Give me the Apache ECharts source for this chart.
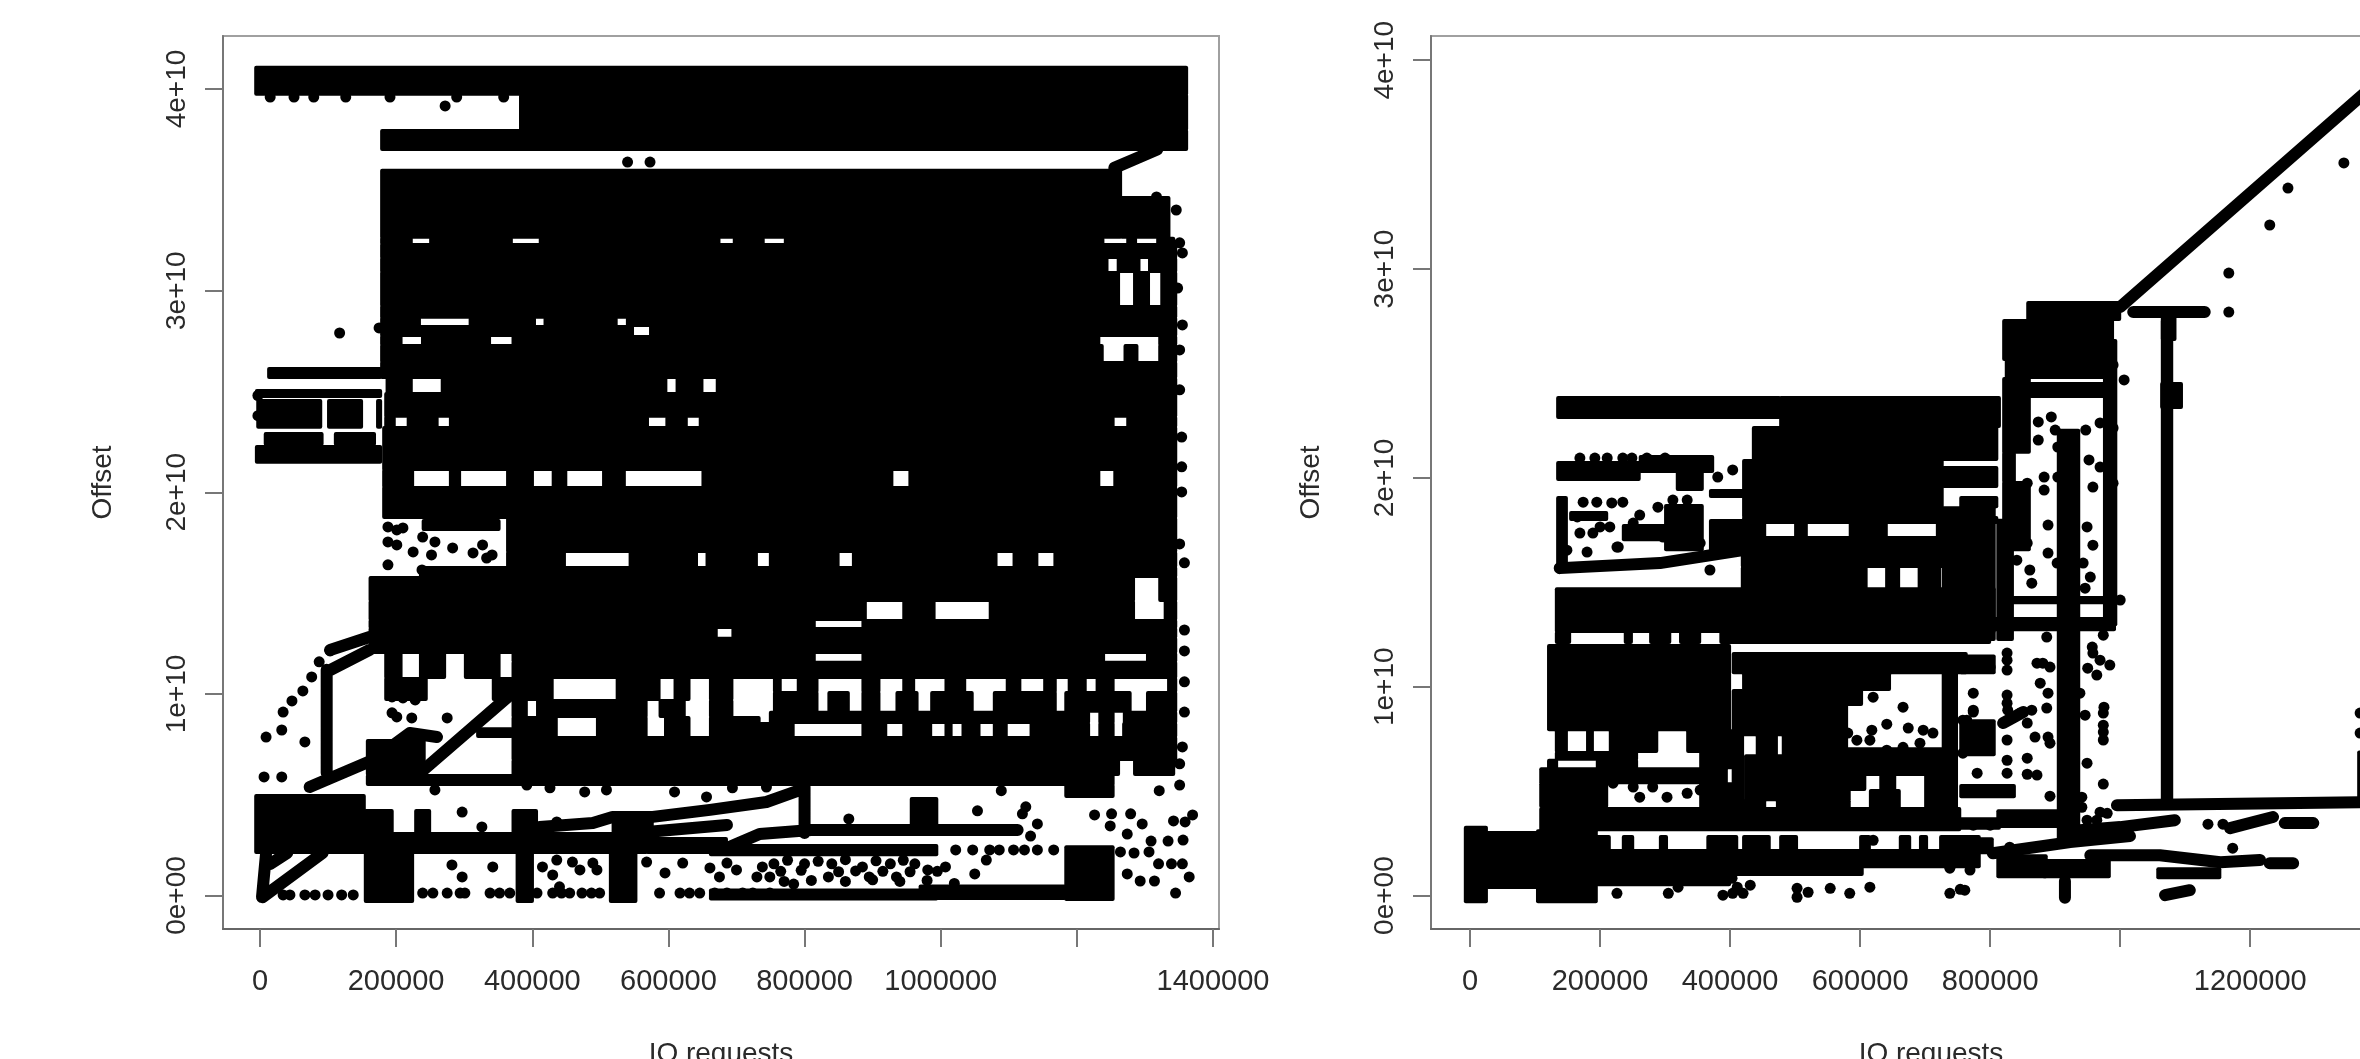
<!DOCTYPE html>
<html><head><meta charset="utf-8">
<style>html,body{margin:0;padding:0;background:#fff;overflow:hidden}#c{width:2360px;height:1059px;filter:blur(0.5px)}</style>
<script src="https://cdn.jsdelivr.net/npm/echarts@6/dist/echarts.min.js"></script>
</head><body><div id="c"></div>
<script>
// All marks. Requests in thousands, offsets in units of 1e10.
const xTickValues = [0,200000,400000,600000,800000,1000000,1200000,1400000];
const leftXLabels = [0,200000,400000,600000,800000,1000000,1400000];
const rightXLabels = [0,200000,400000,600000,800000,1200000];
const yTickValues = [0,1e10,2e10,3e10,4e10];
const yTickLabels = ['0e+00','1e+10','2e+10','3e+10','4e+10'];

// Saturated runs of points: [firstRequest, lastRequest, lowOffset, highOffset]
const leftDense = [
[-7,1362,3.971,4.11],[382,1362,3.797,3.971],[178,1362,3.698,3.797],[178,1265,3.262,3.60],[1265,1336,3.262,3.465],
[178,223,3.232,3.262],[250,370,3.232,3.262],[411,675,3.232,3.262],[696,740,3.232,3.262],[771,1239,3.232,3.262],[1274,1287,3.232,3.262],[1318,1343,3.232,3.262],
[178,1346,3.162,3.232],[178,1245,3.093,3.162],[1260,1292,3.093,3.162],[1306,1346,3.093,3.162],
[178,1262,2.924,3.093],[1284,1306,2.924,3.093],[1324,1346,2.924,3.093],[178,1346,2.865,2.924],
[178,235,2.825,2.865],[308,404,2.825,2.865],[418,524,2.825,2.865],[539,1346,2.825,2.865],
[178,548,2.775,2.825],[573,1346,2.775,2.825],
[178,208,2.731,2.775],[238,338,2.731,2.775],[371,1233,2.731,2.775],[1321,1346,2.731,2.775],
[178,1238,2.646,2.731],[1270,1289,2.646,2.731],[1321,1346,2.646,2.731],[178,1346,2.567,2.646],
[186,223,2.493,2.567],[267,597,2.493,2.567],[612,650,2.493,2.567],[671,1346,2.493,2.567],
[184,1346,2.374,2.493],
[184,198,2.324,2.374],[217,261,2.324,2.374],[279,570,2.324,2.374],[597,627,2.324,2.374],[646,1254,2.324,2.374],[1274,1346,2.324,2.374],
[181,1346,2.111,2.324],
[181,225,2.026,2.111],[279,294,2.026,2.111],[363,401,2.026,2.111],[430,450,2.026,2.111],[504,536,2.026,2.111],[650,929,2.026,2.111],[954,1233,2.026,2.111],[1255,1346,2.026,2.111],
[181,1346,1.873,2.026],[363,1346,1.704,1.873],
[363,448,1.630,1.704],[543,642,1.630,1.704],[656,730,1.630,1.704],[749,850,1.630,1.704],[871,1082,1.630,1.704],[1107,1142,1.630,1.704],[1167,1346,1.630,1.704],
[235,1346,1.580,1.630],[161,1284,1.461,1.580],[1321,1346,1.461,1.580],
[161,890,1.367,1.461],[945,991,1.367,1.461],[1072,1284,1.367,1.461],[1329,1346,1.367,1.461],
[161,815,1.327,1.367],[885,1346,1.327,1.367],[161,671,1.278,1.327],[694,1346,1.278,1.327],[161,1346,1.203,1.278],
[184,208,1.079,1.203],[235,272,1.079,1.203],[301,352,1.079,1.203],
[371,815,1.159,1.203],[885,1240,1.159,1.203],[1303,1346,1.159,1.203],[371,1346,1.079,1.159],
[184,245,.970,1.079],[342,371,.970,1.079],
[371,430,.970,1.079],[524,587,.970,1.079],[609,631,.970,1.079],[661,694,.970,1.079],
[371,392,.886,.970],[407,568,.886,.970],[587,624,.886,.970],[661,694,.886,.970],
[371,436,.786,.886],[495,568,.786,.886],[595,631,.786,.886],[661,734,.786,.886],
[755,765,1.01,1.079],[790,819,1.01,1.079],[885,910,1.01,1.079],[945,961,1.01,1.079],[1007,1036,1.01,1.079],[1097,1117,1.01,1.079],[1152,1169,1.01,1.079],[1188,1213,1.01,1.079],[1229,1254,1.01,1.079],[1334,1346,1.01,1.079],
[755,819,.911,1.01],[835,865,.911,1.01],[885,910,.911,1.01],[935,966,.911,1.01],[986,1047,.911,1.01],[1078,1169,.911,1.01],[1183,1279,.911,1.01],[1303,1346,.911,1.01],
[749,1218,.856,.911],[1233,1254,.856,.911],[1269,1346,.856,.911],
[734,784,.786,.856],[885,920,.786,.856],[945,986,.786,.856],[1007,1016,.786,.856],[1032,1057,.786,.856],[1078,1097,.786,.856],[1132,1218,.786,.856],[1233,1254,.786,.856],[1268,1346,.786,.856],
[371,1346,.672,.786],[371,1262,.598,.672],[1284,1343,.598,.672],[157,1254,.548,.598],[1183,1254,.489,.548],
[157,242,.598,.772],[319,371,.786,.83],
[-7,154,.211,.498],[154,195,.30,.424],[154,225,-.032,.211],[154,195,.211,.30],[195,568,.211,.31],
[228,250,.31,.424],[371,407,.31,.424],[377,401,-.032,.211],[514,553,-.032,.211],[518,577,.31,.41],[568,686,.211,.285],[956,995,.315,.484],
[661,995,.20,.25],[661,995,-.02,.03],[969,1183,-.017,.05],[1183,1254,-.022,.245],
[12,178,2.567,2.617],[-6,178,2.473,2.507],[-4,90,2.32,2.458],[100,150,2.32,2.458],[172,178,2.32,2.458],[7,92,2.235,2.294],[110,169,2.235,2.294],[-6,178,2.146,2.23],
[239,352,1.813,1.863]
];
const rightDense = [
[134,477,2.287,2.387],[477,815,2.244,2.387],[435,811,2.086,2.244],[420,727,1.813,2.086],[727,811,1.956,2.052],[754,811,1.86,1.908],[727,807,1.813,1.86],
[134,261,1.99,2.076],[261,374,2.028,2.105],[318,358,1.942,2.038],[369,420,1.908,1.942],
[134,149,1.568,1.908],[154,211,1.798,1.837],[235,308,1.702,1.774],[300,358,1.654,1.87],[369,420,1.654,1.798],
[420,811,1.784,1.813],[420,454,1.717,1.784],[500,518,1.717,1.784],[584,641,1.717,1.784],[718,800,1.717,1.784],[420,800,1.654,1.717],
[418,727,1.573,1.654],[418,610,1.472,1.573],[640,660,1.472,1.573],[690,723,1.472,1.573],[727,807,1.224,1.813],[811,835,1.224,1.8],
[132,807,1.262,1.472],[132,154,1.209,1.262],[238,249,1.209,1.262],[277,308,1.209,1.262],[323,354,1.209,1.262],[385,800,1.209,1.262],
[120,400,.792,1.2],[404,764,1.065,1.161],[420,646,.984,1.065],[420,603,.912,.984],[420,580,.768,.912],[404,420,.419,.984],
[441,472,.672,.768],[481,580,.672,.768],[423,584,.457,.672],[404,454,.419,.457],[472,584,.419,.457],
[580,727,.577,.706],[580,608,.505,.577],[631,654,.505,.577],[700,727,.419,.577],[615,661,.419,.505],[727,749,.359,1.08],
[108,754,.313,.419],
[132,149,.687,.792],[180,189,.687,.792],[215,288,.687,.792],[334,404,.687,.792],
[132,257,.65,.687],[354,404,.61,.687],[120,134,.61,.65],[195,257,.61,.65],[108,395,.538,.61],[108,211,.424,.538],[354,404,.419,.538],
[-8,26,-.032,.33],[26,108,.036,.304],[103,195,-.032,.313],[195,400,.05,.218],[400,604,.098,.218],[604,784,.136,.218],
[108,138,.218,.285],[189,215,.218,.285],[235,251,.218,.285],[292,303,.218,.285],[365,411,.218,.285],[420,461,.218,.285],[477,503,.218,.285],[600,615,.218,.285],[661,677,.218,.285],[692,703,.218,.285],[723,784,.218,.285],
[1366,1375,.46,.69],[1057,1154,.083,.131],[811,887,.088,.193],[881,984,.088,.17],[754,804,.203,.275],[811,907,.328,.409],
[904,937,.275,2.23],[1064,1080,.457,2.756],[1063,1095,2.335,2.454],[1064,1085,2.66,2.77],[975,994,1.295,2.66],[835,1004,1.4,1.43],[807,992,1.271,1.329],
[857,1000,2.756,2.842],[820,989,2.565,2.756],[824,987,2.478,2.565],
[820,861,2.12,2.478],[820,838,1.98,2.12],[820,861,1.654,1.98],[861,975,2.387,2.454],
[754,807,.672,.84],[754,807,1.065,1.15],[754,838,.471,.529],[754,815,.32,.37]
];

// Thin traces where points merge into a line: each is a list of [request, offset]
const leftTraces = [
[[1255,3.609],[1318,3.70]],
[[235,.608],[371,1.005]],[[73,.538],[166,.672],[220,.806],[260,.786]],
[[98,.608],[98,1.12]],[[98,1.109],[161,1.218]],[[103,1.218],[161,1.282]],
[[4,-.008],[92,.211]],[[9,.211],[3,-.008]],[[15,.156],[40,.211]],
[[411,.34],[489,.36],[518,.39],[577,.39],[661,.425],[744,.464],[794,.524]],
[[568,.315],[686,.35]],[[686,.236],[734,.305],[810,.325],[1113,.325]],[[800,.54],[800,.31]]
];
const rightTraces = [
[[138,1.568],[292,1.592],[420,1.654]],
[[995,.433],[1369,.447],[1400,.45]],[[938,.313],[1000,.328],[1084,.361]],[[1169,.323],[1235,.376]],[[1253,.347],[1297,.347]],
[[804,.203],[923,.256],[1015,.285]],[[954,.193],[1061,.193],[1154,.16],[1215,.17]],[[1230,.155],[1266,.155]],
[[1069,.002],[1107,.026]],[[915,.07],[915,-.01]],[[820,.826],[851,.879]],
[[1020,2.794],[1130,2.794]],[[1000,2.818],[1369,3.824],[1410,3.935]]
];

// Isolated points: [request, offset]
const leftPoints = [
[272,3.916],[117,2.79],[175,2.815],[540,3.638],[573,3.638],
[15,3.96],[50,3.96],[79,3.96],[126,3.96],[191,3.96],[289,3.96],[358,3.96],[-3,2.48],[-3,2.38],
[188,1.828],[201,1.813],[210,1.823],[188,1.754],[201,1.739],[225,1.704],[239,1.778],[257,1.754],[252,1.689],[283,1.724],[313,1.699],[327,1.739],[333,1.674],[341,1.689],[188,1.64],[238,1.615],
[194,.985],[210,.98],[228,.97],[194,.906],[223,.881],[275,.881],[201,.886],
[257,.524],[392,.548],[426,.534],[477,.514],[509,.524],[609,.514],[656,.489],[694,.534],[744,.538],
[297,.414],[436,.365],[326,.34],
[282,.152],[297,.092],[342,.142],[415,.142],[430,.102],[436,.176],[459,.166],[470,.127],[495,.127],[489,.161],[568,.166],[595,.112],[621,.161],[661,.137],[675,.092],[700,.127],[686,.161],[730,.092],[738,.142],
[34,.003],[44,.003],[66,.003],[81,.003],[100,.003],[120,.003],[137,.003],
[239,.012],[254,.012],[275,.012],[294,.012],[301,.012],[338,.012],[352,.012],[367,.012],[407,.012],[430,.012],[443,.012],[455,.012],[473,.012],[487,.012],[499,.012],[587,.012],[617,.012],[631,.012],[646,.012],[668,.012],[686,.012],[709,.012],[724,.012],[749,.012],[440,.043],
[865,.38],[1054,.42],[1125,.44],[1120,.405],[1142,.355],[1132,.295],[1089,.52],[1321,.52],[1226,.40],[1251,.405],[1279,.405],[1296,.355],[1249,.345],[1274,.305],[1342,.37],[1370,.40],[1359,.365],[1309,.27],[1334,.27],[1356,.275],[1264,.216],[1284,.211],[1306,.216],[1355,.157],[1320,.157],[1339,.157],[1314,.072],[1365,.092],[1345,.012],[1274,.107],[1293,.072],
[1022,.226],[1047,.226],[1072,.226],[1086,.226],[1107,.226],[1123,.226],[1142,.226],[1166,.226],[1067,.176],
[755,.157],[800,.157],[840,.157],[885,.142],[926,.157],[962,.157],[749,.092],[784,.057],[835,.092],[895,.092],[935,.092],[981,.127],[1007,.142],[1050,.107],
[775,.175],[820,.17],[860,.178],[905,.172],[945,.175],[765,.12],[795,.125],[850,.118],[875,.122],[915,.12],[955,.118],[995,.12],[770,.07],[810,.075],[860,.07],[900,.078],[940,.07],[980,.075],[1020,.06],
[1317,3.465],[1346,3.40],[1351,3.237],[1355,3.187],[1348,3.013],[1355,2.83],[1351,2.706],[1351,2.508],[1354,2.274],[1354,2.126],[1354,2.002],[1351,1.744],[1358,1.65],[1358,1.317],[1358,1.213],[1358,1.06],[1358,.91],[1355,.737],[1351,.653],[1351,.548],
[9,.786],[32,.821],[34,.91],[47,.965],[63,1.015],[76,1.084],[87,1.159],[103,1.213],[66,.762],[6,.588],[32,.588]
];
const rightPoints = [
[169,2.095],[192,2.095],[211,2.095],[235,2.095],[249,2.095],[272,2.095],[300,2.095],[381,2.004],[404,2.038],
[174,1.884],[195,1.884],[218,1.88],[235,1.884],[261,1.822],[289,1.86],[312,1.894],[334,1.894],[169,1.736],[200,1.765],[228,1.669],[165,1.813],
[149,1.654],[180,1.645],[189,1.736],[215,1.765],[226,1.669],[251,1.784],[297,1.717],[312,1.765],[354,1.688],[404,1.702],[426,1.765],[369,1.559],
[251,.52],[261,.471],[303,.471],[334,.49],[354,.505],[385,.52],[220,.538],[281,.52],
[1167,2.794],[1167,2.981],[1230,3.211],[1258,3.388],[1344,3.508],
[894,2.292],[874,2.268],[900,2.229],[874,2.181],[904,2.148],[947,2.229],[969,2.263],[952,2.086],[969,2.052],[883,2.004],[904,2.004],[857,1.975],[841,1.928],[883,1.942],[958,1.956],[1006,2.469],[989,2.541],[989,2.239],[989,1.975],
[851,1.726],[857,1.688],[841,1.606],[861,1.559],[889,1.64],[903,1.592],[889,1.774],[949,1.765],[958,1.678],[943,1.592],[954,1.525],[946,1.472],[1000,1.415],[864,1.496],[887,1.238],[974,1.247],
[957,1.19],[958,1.161],[969,1.127],[984,1.104],[964,1.056],[950,1.089],[826,1.161],[826,1.127],[826,1.08],[758,1.127],[780,1.094],[800,1.094],[872,1.113],[881,1.113],[892,1.094],[877,1.017],[889,.969],[938,.969],[774,.969],[826,.96],[826,.921],[827,.888],[864,.888],[846,.874],[887,.898],[857,.826],[946,.864],[975,.902],[974,.874],[974,.816],[974,.783],[974,.745],[826,.745],[869,.759],[889,.759],[892,.73],[826,.648],[857,.658],[949,.634],[826,.586],[857,.581],[872,.577],[974,.534],[892,.476],[941,.471],[941,.423],[969,.399],[980,.394],[949,.361],[964,.361],[830,.232],
[764,.84],[774,.879],[758,.682],[780,.586],[800,.337],[774,.337],[1135,.342],[1158,.342],[1173,.227],[761,.026],[1369,.874],[1369,.778],
[226,.011],[305,.011],[320,.04],[389,.002],[411,.04],[431,.05],[404,.011],[420,.011],[403,.083],[503,.035],[503,-.008],[520,.016],[554,.035],[584,.011],[615,.04],[738,.011],[754,.03],[738,.131],[769,.122],[620,.265],
[620,.95],[666,.902],[618,.792],[641,.821],[674,.802],[697,.792],[712,.778],[595,.744],[615,.744],[581,.778],[641,.696],[666,.71],[692,.73],[774,.888],[758,.84]
];

const REQ = 1000, OFF = 1e10;
const toDense = a => a.map(r => [r[0]*REQ, r[1]*REQ, r[2]*OFF, r[3]*OFF]);
const toPoints = a => a.map(p => [p[0]*REQ, p[1]*OFF]);
const toTrace = a => a.flatMap(t => toPoints(t).concat([['-','-']]));

const FONT = 'Liberation Sans', INK = '#2a2a2a';
const grids = [
  {left:223, top:36, width:996, height:893},
  {left:1431, top:36, width:1000, height:893}
];
const renderDense = (params, api) => {
  const a = api.coord([api.value(0), api.value(3)]);
  const b = api.coord([api.value(1), api.value(2)]);
  return {type:'rect', silent:true,
    shape:{x:a[0]-1, y:a[1]-1, width:b[0]-a[0]+2, height:b[1]-a[1]+2, r:2},
    style:{fill:'#000'}};
};
function xAxis(i, labels, min, max){
  return {type:'value', gridIndex:i, min, max, position:'bottom', splitLine:{show:false},
    name:'IO requests', nameLocation:'middle', nameGap:111,
    nameTextStyle:{fontFamily:FONT, fontSize:28, color:INK},
    axisLine:{show:true, onZero:false, lineStyle:{color:'#666', width:2}},
    axisTick:{show:true, customValues:xTickValues, length:18, lineStyle:{color:'#777', width:2}},
    axisLabel:{customValues:labels, margin:38, fontFamily:FONT, fontSize:29, color:INK, hideOverlap:false, showMinLabel:true, showMaxLabel:true, formatter:v=>String(v)}};
}
function yAxis(i, min, max){
  return {type:'value', gridIndex:i, min, max, position:'left', splitLine:{show:false},
    name:'Offset', nameLocation:'middle', nameGap:106, nameRotate:90,
    nameTextStyle:{fontFamily:FONT, fontSize:28, color:INK},
    axisLine:{show:true, onZero:false, lineStyle:{color:'#777', width:2}},
    axisTick:{show:true, customValues:yTickValues, length:18, lineStyle:{color:'#777', width:2}},
    axisLabel:{customValues:yTickValues, rotate:90, margin:32, fontFamily:FONT, fontSize:28, color:INK, hideOverlap:false, showMinLabel:true, showMaxLabel:true,
      formatter:v=>yTickLabels[yTickValues.indexOf(v)]}};
}
function panel(i, dense, traces, points){
  return [
    {type:'custom', name:'dense'+i, xAxisIndex:i, yAxisIndex:i, renderItem:renderDense, encode:{x:[0,1],y:[2,3]}, data:toDense(dense), silent:true, animation:false},
    {type:'line', name:'trace'+i, xAxisIndex:i, yAxisIndex:i, data:toTrace(traces), showSymbol:false, symbol:'none', connectNulls:false, lineStyle:{color:'#000', width:12, cap:'round', join:'round'}, silent:true, animation:false},
    {type:'scatter', name:'points'+i, xAxisIndex:i, yAxisIndex:i, data:toPoints(points), symbolSize:11, itemStyle:{color:'#000', opacity:1}, silent:true, animation:false}
  ];
}
const chart = echarts.init(document.getElementById('c'), null, {renderer:'canvas'});
chart.setOption({
  animation:false, backgroundColor:'#fff',
  grid: grids.map(g => Object.assign({show:true, borderColor:'#a0a0a0', borderWidth:2, backgroundColor:'#fff', containLabel:false, outerBoundsMode:'none'}, g)),
  xAxis:[xAxis(0,leftXLabels,-54300,1408800), xAxis(1,rightXLabels,-60000,1478000)],
  yAxis:[yAxis(0,-0.166e10,4.263e10), yAxis(1,-0.16e10,4.116e10)],
  series:[...panel(0,leftDense,leftTraces,leftPoints), ...panel(1,rightDense,rightTraces,rightPoints)]
});
</script></body></html>
